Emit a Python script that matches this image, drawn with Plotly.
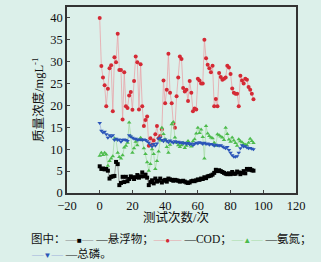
import plotly.graph_objects as go

idx = list(range(95))

ss = [6.1, 5.5, 5.6, 5.4, 5.5, 5.1, 3.3, 3.7, 3.8, 3.9, 7.1, 6.6, 1.8, 2.3, 3.7, 2.5, 3.7, 2.7, 3.2, 3.8,
      3.6, 3.2, 3.6, 4.1, 3.5, 3.8, 4.7, 3.8, 4.2, 3.5, 1.8, 2.5, 2.9, 2.2, 3.3, 2.6, 2.8, 3.3, 2.4, 2.8,
      3.0, 2.6, 3.3, 3.1, 3.0, 2.8, 3.0, 2.9, 2.8, 2.6, 2.7, 2.8, 2.6, 2.4, 2.3, 2.4, 2.7, 2.8, 2.7, 2.9,
      3.1, 3.0, 3.3, 3.2, 3.6, 3.4, 3.8, 3.9, 4.0, 4.2, 4.6, 5.3, 5.0, 5.2, 5.0, 4.8, 4.6, 4.4, 4.3, 4.5,
      4.3, 4.8, 4.4, 4.4, 4.9, 4.7, 4.3, 4.6, 5.0, 4.5, 5.5, 5.3, 5.5, 5.2, 5.1]

cod = [40, 29, 26.4, 24.6, 19.8, 23.8, 28.5, 29.2, 18.7, 31, 29.9, 36.4, 28.1, 28.1, 16.8, 27.6, 19.8, 19.4, 22.3, 23.1,
       19, 25.6, 31.2, 29.9, 19.1, 29.4, 19.8, 15.3, 16.7, 17.5, 10.8, 12.5, 11, 12, 13.4, 15.3, 12.5, 13, 14.5, 25.7,
       20.5, 23.6, 31.8, 22.9, 20.5, 15.9, 14.9, 22.1, 26.4, 31.2, 30.6, 24, 23.2, 23.6, 21, 25.6, 22.9, 18.7, 19.3, 19.1,
       26.1, 25.7, 25, 25, 35, 30.8, 29.3, 28.5, 27.6, 29.1, 19.8, 21.5, 19.8, 27.4, 26.5, 25.9, 26.1, 26.4, 29.1, 28.7,
       27.2, 23.9, 22.9, 22.7, 22.7, 19.8, 26.8, 25.7, 25, 26.1, 25.9, 24.2, 23.6, 22.7, 21.4]

nh3 = [8.5, 9.2, 8.7, 9.2, 8.8, 6.2, 7.3, 7.9, 8.4, 12.5, 12.2, 9.2, 8.2, 7.9, 8.6, 10.4, 10.8, 11.5, 16.1, 12.9,
       9.2, 10.2, 11.7, 10.9, 12.1, 12.6, 12.1, 10.2, 8.9, 7.0, 5.1, 6.6, 10.0, 8.9, 5.5, 7.3, 9.5, 12.0, 14.9, 13.5,
       12.3, 10.5, 9.2, 11.0, 15.7, 16.2, 12.7, 11.5, 10.9, 10.5, 10.9, 11.5, 10.3, 10.8, 11.9, 11.2, 10.6, 11.8, 12.3, 13.6,
       14.9, 13.7, 14.5, 12.8, 7.9, 15.3, 13.6, 13.0, 12.7, 12.5, 11.5, 10.8, 13.4, 13.2, 12.9, 12.7, 12.1, 14.9, 13.5, 12.2,
       11.7, 12.7, 12.0, 11.4, 10.8, 12.3, 11.8, 11.6, 11.2, 11.0, 10.9, 11.5, 12.4, 11.9, 11.4]

tp = [16.0, 14.2, 13.8, 14.0, 13.4, 12.6, 13.2, 12.9, 13.2, 12.1, 12.4, 12.1, 12.2, 11.7, 12.1, 12.2, 12.1, 11.9, 13.2, 12.9,
      12.6, 12.4, 12.4, 12.1, 12.2, 12.2, 12.1, 12.2, 12.1, 11.8, 11.5, 11.0, 10.6, 11.2, 10.8, 11.3, 12.4, 12.6, 12.1, 11.8,
      12.2, 11.9, 11.6, 12.0, 11.7, 11.5, 11.8, 11.6, 11.7, 11.4, 11.6, 11.3, 11.5, 11.2, 11.4, 11.1, 11.3, 10.9, 11.2, 11.5,
      11.3, 11.6, 11.4, 11.2, 11.5, 11.2, 11.3, 11.0, 11.2, 11.1, 10.8, 11.0, 10.9, 10.8, 10.9, 10.6, 10.4, 10.2, 10.5, 9.8,
      9.2, 8.6, 8.3, 8.3, 8.4, 9.2, 10.2, 10.9, 10.6, 10.7, 10.4, 10.2, 10.3, 10.1, 10.0]

names = ["悬浮物", "COD", "氨氮", "总磷"]
x_ticks = [-20, 0, 20, 40, 60, 80, 100, 120]
y_ticks = [0, 5, 10, 15, 20, 25, 30, 35, 40]

BG = "#dcf0ea"
FONT = "Liberation Serif, Times New Roman, Times, serif"
CJK = "Liberation Serif, Noto Sans CJK SC, serif"

series = [
    (ss, names[0], "#000000", "#8a8a8a", "square", "■"),
    (cod, names[1], "#d42a35", "#e8a3a8", "circle", "●"),
    (nh3, names[2], "#4cbb4c", "#a8dca8", "triangle-up", "▲"),
    (tp, names[3], "#2a55b8", "#9fb3dc", "triangle-down", "▼"),
]

fig = go.Figure()
for vals, nm, mc, lc, sym, _g in series:
    fig.add_trace(go.Scatter(
        x=idx, y=vals, name=nm, mode="lines+markers",
        line=dict(color=lc, width=0.8),
        marker=dict(color=mc, size=4, symbol=sym),
        showlegend=False,
    ))


def key(lc, mc, glyph):
    return (f'<span style="color:{lc}">—</span>'
            f'<span style="color:{mc};font-size:8px">{glyph}</span>'
            f'<span style="color:{lc}">—</span> ')


seps = ["；", "；", "；", "。"]
parts = [key(s[3], s[2], s[5]) + "—" + s[1] + sep for s, sep in zip(series, seps)]
line1 = "图中：" + "".join(parts[:3])
line2 = parts[3]

PL, PB, PW, PH = 67, 193, 229, 186

for txt, ypx in [(line1, 238), (line2, 253)]:
    fig.add_annotation(
        text=txt, xref="paper", yref="paper",
        x=(29 - PL) / PW, y=(PB - ypx) / PH,
        xanchor="left", yanchor="middle", showarrow=False,
        font=dict(size=11.5, family=CJK, color="#111"),
    )

fig.add_annotation(
    text="测试次数/次", xref="paper", yref="paper",
    x=(176 - PL) / PW, y=(PB - 218) / PH, xanchor="center", yanchor="middle",
    showarrow=False, font=dict(size=12.5, family=CJK, color="#111"),
)
fig.add_annotation(
    text="质量浓度/mgL<sup>-1</sup>", xref="paper", yref="paper", textangle=-90,
    x=(38 - PL) / PW, y=0.5, xanchor="center", yanchor="middle",
    showarrow=False, font=dict(size=12.5, family=CJK, color="#111"),
)

fig.update_layout(
    width=321, height=262,
    paper_bgcolor=BG, plot_bgcolor=BG,
    margin=dict(l=PL, r=321 - PL - PW, t=PB - PH, b=262 - PB, autoexpand=False),
    font=dict(family=FONT, size=12.5, color="#111"),
    showlegend=False,
    xaxis=dict(
        range=[-20, 120], tickvals=x_ticks, ticks="inside", ticklen=3,
        showline=True, mirror=True, linecolor="#333", linewidth=1.5,
        showgrid=False, zeroline=False, automargin=False,
        tickfont=dict(size=12.5, family=FONT),
    ),
    yaxis=dict(
        range=[0, 42.5], tickvals=y_ticks, ticks="inside", ticklen=3,
        showline=True, mirror=True, linecolor="#333", linewidth=1.5,
        showgrid=False, zeroline=False, automargin=False,
        tickfont=dict(size=12.5, family=FONT),
    ),
)

fig.write_html(
    "out.html",
    config={"displayModeBar": False},
    post_script="document.body.style.margin='0';document.body.style.padding='0';document.body.style.background='" + BG + "';",
)
